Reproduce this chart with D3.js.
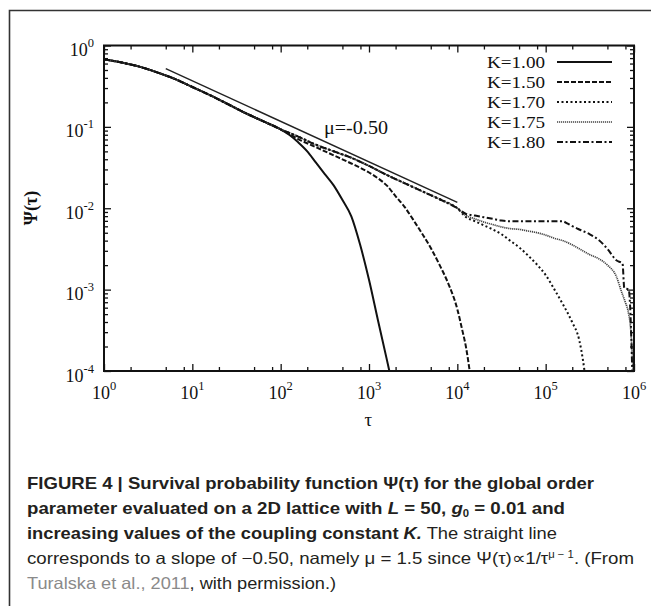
<!DOCTYPE html>
<html><head><meta charset="utf-8">
<script src="https://cdn.jsdelivr.net/npm/d3@7"></script>
<style>
html,body{margin:0;padding:0;background:#fff;}
svg{display:block;}
</style></head>
<body>
<svg id="chart" width="651" height="606"></svg>
<script>
// ---------- data ----------
const xTickExps = [0, 1, 2, 3, 4, 5, 6];
const yTickExps = [0, -1, -2, -3, -4];
const xMinorMult = [2, 5, 8];
const yMinorMult = [2, 3, 4, 5, 6, 7, 8, 9];

// shared early part of every curve
const commonTau = [1, 1.585, 2.512, 3.981, 6.31, 10, 15.85, 25.1, 39.8, 63.1, 100];
const commonPsi = [0.676, 0.617, 0.550, 0.468, 0.389, 0.309, 0.245, 0.191, 0.148, 0.1175, 0.0933];
// continuation shared by K >= 1.70
const midTau = [158, 251, 398, 631, 1000];
const midPsi = [0.0759, 0.0603, 0.0501, 0.0417, 0.0331];
const lateTau = [1585, 2512, 3981, 6310, 10000];
const latePsi = [0.0257, 0.0204, 0.0162, 0.0129, 0.0100];

const k100Tau = [126, 158, 200, 251, 316, 398, 501, 631, 794, 1000, 1259, 1585, 1700];
const k100Psi = [0.0794, 0.0646, 0.0501, 0.0363, 0.0263, 0.0191, 0.0126, 0.00794, 0.00355, 0.00132, 0.000427, 0.000141, 0.0001];

const k150Tau = [158, 251, 398, 631, 1000, 1259, 1585, 1995, 2512, 3162, 3981, 5012, 6310, 7943, 10000, 11220, 12590, 13800];
const k150Psi = [0.0708, 0.0562, 0.0447, 0.0355, 0.0275, 0.0234, 0.0191, 0.0141, 0.0105, 0.00724, 0.0049, 0.00324, 0.0020, 0.00117, 0.000575, 0.000339, 0.000191, 0.0001];

const k170Tau = [12590, 15850, 19950, 25120, 31620, 39810, 50120, 63100, 79430, 100000, 125900, 158500, 199500, 239900, 263000, 275400];
const k170Psi = [0.00776, 0.00692, 0.00617, 0.0055, 0.00479, 0.00398, 0.00331, 0.00263, 0.00204, 0.00151, 0.0010, 0.000646, 0.000398, 0.00024, 0.000141, 0.0001];

const k175Tau = [12590, 15850, 19950, 25120, 31620, 39810, 50120, 63100, 79430, 100000, 125900, 158500, 199500, 251200, 316200, 398100, 501200, 631000, 724400, 794300, 871000, 912000, 933000, 977000];
const k175Psi = [0.00813, 0.00741, 0.00676, 0.00631, 0.00589, 0.00562, 0.0055, 0.00525, 0.00501, 0.00468, 0.00427, 0.00398, 0.00355, 0.00309, 0.00269, 0.0024, 0.0020, 0.00145, 0.000933, 0.000708, 0.000501, 0.000355, 0.000251, 0.0001];

const k180Tau = [12590, 15850, 19950, 25120, 31620, 39810, 155000, 177800, 199500, 251200, 316200, 398100, 501200, 631000, 741300, 776200, 871000, 912000, 933000, 955000];
const k180Psi = [0.00851, 0.00813, 0.00776, 0.00741, 0.00708, 0.00692, 0.00692, 0.00646, 0.00603, 0.00537, 0.00479, 0.00407, 0.00316, 0.00229, 0.00209, 0.00105, 0.0010, 0.000501, 0.000251, 0.0001];

const slopeTau = [5, 10000];
const slopePsi = [0.52, 0.0118];

const legendLabels = ["K=1.00", "K=1.50", "K=1.70", "K=1.75", "K=1.80"];

// ---------- build series ----------
function pts(t, p) { return t.map((v, i) => [v, p[i]]); }
const base = pts(commonTau, commonPsi);
const mid = pts(midTau, midPsi);
const late = pts(lateTau, latePsi);
const series = [
  { name: legendLabels[0], data: base.concat(pts(k100Tau, k100Psi)), dash: null, width: 2, color: "#111" },
  { name: legendLabels[1], data: base.concat(pts(k150Tau, k150Psi)), dash: "5,2", width: 2, color: "#111" },
  { name: legendLabels[2], data: base.concat(mid, late, pts(k170Tau, k170Psi)), dash: "2,2.5", width: 2, color: "#111" },
  { name: legendLabels[3], data: base.concat(mid, late, pts(k175Tau, k175Psi)), dash: "1.2,0.8", width: 1.7, color: "#444" },
  { name: legendLabels[4], data: base.concat(mid, late, pts(k180Tau, k180Psi)), dash: "6,2.5,2,2.5", width: 2, color: "#111" }
];

// ---------- layout ----------
const svg = d3.select("#chart");
const L = 104, R = 634, T = 45.5, B = 371;
const x = d3.scaleLog().domain([1, 1e6]).range([L, R]);
const y = d3.scaleLog().domain([1e-4, 1]).range([B, T]);

svg.append("path").attr("d", "M9.5,606 V10.5 H651").attr("fill", "none")
  .attr("stroke", "#333").attr("stroke-width", 1.6);

svg.append("clipPath").attr("id", "clip").append("rect")
  .attr("x", L).attr("y", T).attr("width", R - L).attr("height", B - T);
const plot = svg.append("g").attr("clip-path", "url(#clip)");

const line = d3.line().x(d => x(d[0])).y(d => y(d[1])).curve(d3.curveMonotoneX);
series.forEach(s => {
  plot.append("path").datum(s.data).attr("d", line)
    .attr("fill", "none").attr("stroke", s.color).attr("stroke-width", s.width)
    .attr("stroke-dasharray", s.dash).attr("stroke-linejoin", "round");
});
const straight = d3.line().x(d => x(d[0])).y(d => y(d[1]));
plot.append("path").datum(pts(slopeTau, slopePsi)).attr("d", straight)
  .attr("fill", "none").attr("stroke", "#222").attr("stroke-width", 1.5);

const xMaj = xTickExps.map(e => Math.pow(10, e));
const xMin = [];
xTickExps.slice(0, -1).forEach(e => xMinorMult.forEach(m => xMin.push(m * Math.pow(10, e))));
const yMaj = yTickExps.map(e => Math.pow(10, e));
const yMin = [];
yTickExps.slice(1).forEach(e => yMinorMult.forEach(m => yMin.push(m * Math.pow(10, e))));

function styleAxis(g) {
  g.select(".domain").remove();
  g.selectAll("line").attr("stroke", "#111").attr("stroke-width", 1.3);
  g.selectAll("text").remove();
}
svg.append("g").attr("transform", `translate(0,${B})`).call(d3.axisBottom(x).tickValues(xMaj).tickSize(-7)).call(styleAxis);
svg.append("g").attr("transform", `translate(0,${B})`).call(d3.axisBottom(x).tickValues(xMin).tickSize(-4)).call(styleAxis);
svg.append("g").attr("transform", `translate(0,${T})`).call(d3.axisTop(x).tickValues(xMaj).tickSize(-7)).call(styleAxis);
svg.append("g").attr("transform", `translate(0,${T})`).call(d3.axisTop(x).tickValues(xMin).tickSize(-4)).call(styleAxis);
svg.append("g").attr("transform", `translate(${L},0)`).call(d3.axisLeft(y).tickValues(yMaj).tickSize(-7)).call(styleAxis);
svg.append("g").attr("transform", `translate(${L},0)`).call(d3.axisLeft(y).tickValues(yMin).tickSize(-4)).call(styleAxis);
svg.append("g").attr("transform", `translate(${R},0)`).call(d3.axisRight(y).tickValues(yMaj).tickSize(-7)).call(styleAxis);
svg.append("g").attr("transform", `translate(${R},0)`).call(d3.axisRight(y).tickValues(yMin).tickSize(-4)).call(styleAxis);

svg.append("rect").attr("x", L).attr("y", T).attr("width", R - L).attr("height", B - T)
  .attr("fill", "none").attr("stroke", "#111").attr("stroke-width", 2);

const serif = "'Liberation Serif','Times New Roman',serif";

xTickExps.forEach(e => {
  const t = svg.append("text").attr("x", x(Math.pow(10, e))).attr("y", B + 28)
    .attr("text-anchor", "middle").attr("font-family", serif).attr("font-size", 18).attr("fill", "#111");
  t.append("tspan").text("10");
  t.append("tspan").attr("dy", -9).attr("font-size", 12.5).text(String(e));
});
yTickExps.forEach(e => {
  const t = svg.append("text").attr("x", 94).attr("y", y(Math.pow(10, e)) + 10.5)
    .attr("text-anchor", "end").attr("font-family", serif).attr("font-size", 18).attr("fill", "#111");
  t.append("tspan").text("10");
  t.append("tspan").attr("dy", -9).attr("font-size", 12.5).text(String(e));
});

svg.append("text").attr("x", x(Math.sqrt(1e6) * 0.98)).attr("y", 426)
  .attr("text-anchor", "middle").attr("font-family", serif).attr("font-size", 19).attr("fill", "#111").text("τ");
svg.append("text").attr("transform", "translate(37,208) rotate(-90)")
  .attr("text-anchor", "middle").attr("font-family", serif).attr("font-weight", "bold")
  .attr("font-size", 18).attr("fill", "#111").text("Ψ(τ)");

svg.append("text").attr("x", 324).attr("y", 134).attr("font-family", serif).attr("font-size", 18)
  .attr("fill", "#111").attr("textLength", 64).attr("lengthAdjust", "spacingAndGlyphs").text("μ=-0.50");

const legY0 = 62, legDy = 20;
series.forEach((s, i) => {
  const yy = legY0 + i * legDy;
  svg.append("text").attr("x", 487).attr("y", yy + 5.5).attr("font-family", serif).attr("font-size", 17)
    .attr("fill", "#111").attr("textLength", 58).attr("lengthAdjust", "spacingAndGlyphs").text(s.name);
  svg.append("line").attr("x1", 557).attr("x2", 612).attr("y1", yy).attr("y2", yy)
    .attr("stroke", s.color).attr("stroke-width", s.width).attr("stroke-dasharray", s.dash);
});

const sans = "'Liberation Sans','Roboto',Arial,sans-serif";
function capLine(yb, len) {
  return svg.append("text").attr("x", 27).attr("y", yb).attr("font-family", sans).attr("font-size", 16.5)
    .attr("fill", "#231f20").attr("textLength", len).attr("lengthAdjust", "spacingAndGlyphs");
}
let c = capLine(489, 567).attr("font-weight", "bold");
c.append("tspan").text("FIGURE 4 | Survival probability function Ψ(τ) for the global order");

c = capLine(514, 538).attr("font-weight", "bold");
c.append("tspan").text("parameter evaluated on a 2D lattice with ");
c.append("tspan").attr("font-style", "italic").text("L");
c.append("tspan").text(" = 50, ");
c.append("tspan").attr("font-style", "italic").text("g");
c.append("tspan").attr("font-size", 10).attr("dy", 3).text("0");
c.append("tspan").attr("dy", -3).text(" = 0.01 and");

c = capLine(539, 530);
c.append("tspan").attr("font-weight", "bold").text("increasing values of the coupling constant ");
c.append("tspan").attr("font-weight", "bold").attr("font-style", "italic").text("K.");
c.append("tspan").text(" The straight line");

c = capLine(564, 607);
c.append("tspan").text("corresponds to a slope of −0.50, namely μ = 1.5 since Ψ(τ)∝1/τ");
c.append("tspan").attr("font-size", 10).attr("dy", -6).text("μ − 1");
c.append("tspan").attr("dy", 6).text(". (From");

c = capLine(589, 309);
c.append("tspan").attr("fill", "#8a8a8a").text("Turalska et al., 2011");
c.append("tspan").text(", with permission.)");
</script>
</body></html>
